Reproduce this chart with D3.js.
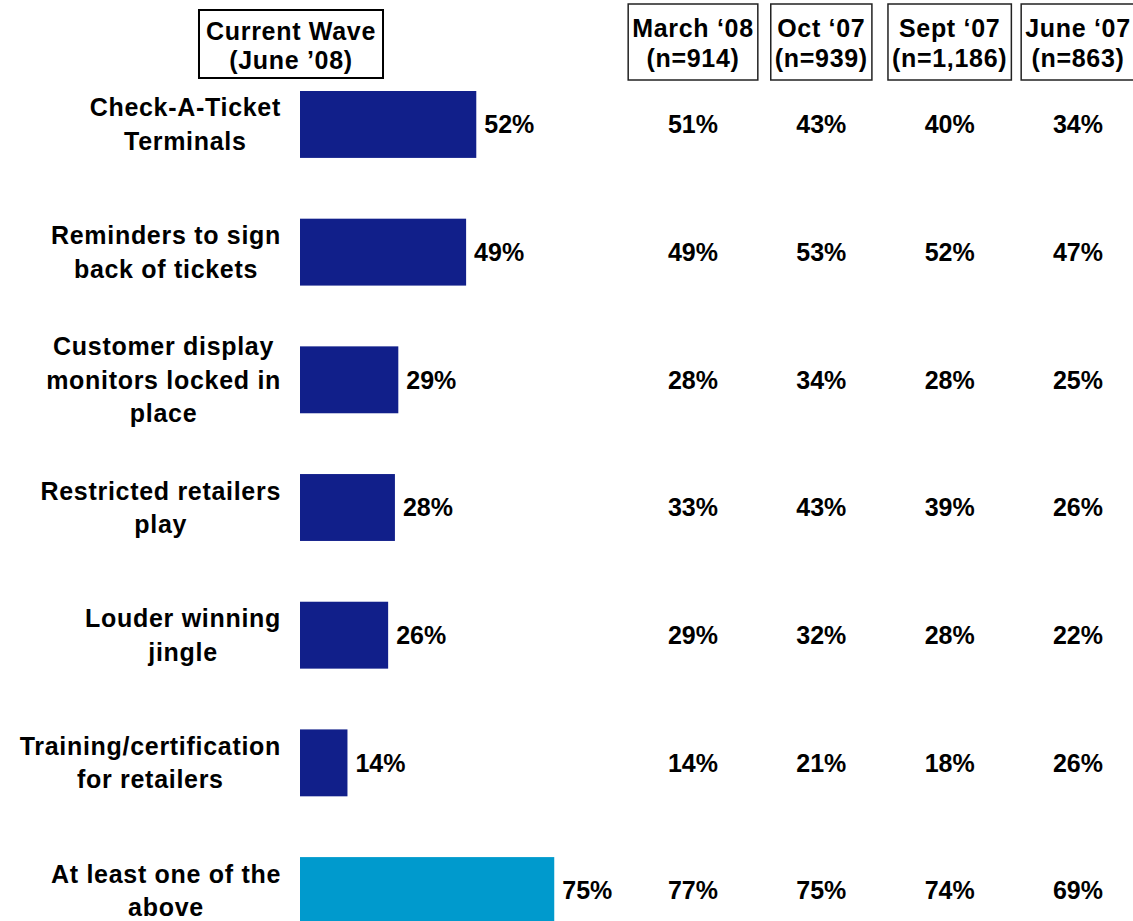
<!DOCTYPE html>
<html>
<head>
<meta charset="utf-8">
<script src="https://cdn.jsdelivr.net/npm/d3@7"></script>
<style>
  html, body { margin: 0; padding: 0; background: #ffffff; }
  svg { display: block; }
  text { font-family: "Liberation Sans", Arial, sans-serif; font-weight: bold; fill: #000; }
  .wide { letter-spacing: 0.7px; }
</style>
</head>
<body>
<script>
// Security features awareness by survey wave
const categories = [
  "Check-A-Ticket\nTerminals",
  "Reminders to sign\nback of tickets",
  "Customer display\nmonitors locked in\nplace",
  "Restricted retailers\nplay",
  "Louder winning\njingle",
  "Training/certification\nfor retailers",
  "At least one of the\nabove"
];
const currentWave = [52, 49, 29, 28, 26, 14, 75];
const currentLabel = ["Current Wave", "(June \u201908)"];

const waveNames = ["March \u201808", "Oct \u201807", "Sept \u201807", "June \u201807"];
const waveSamples = ["(n=914)", "(n=939)", "(n=1,186)", "(n=863)"];
const march08 = [51, 49, 28, 33, 29, 14, 77];
const oct07 = [43, 53, 34, 43, 32, 21, 75];
const sept07 = [40, 52, 28, 39, 28, 18, 74];
const june07 = [34, 47, 25, 26, 22, 26, 69];
const waveValues = [march08, oct07, sept07, june07];

const W = 1133, H = 921;
const FONT = 25;
const LINE = 33.5;
const darkBlue = "#111f8a", lightBlue = "#009acd";

const svg = d3.select("body").append("svg").attr("width", W).attr("height", H);

const x = d3.scaleLinear().domain([0, 100]).range([300, 639]);
const y = d3.scaleBand().domain(d3.range(categories.length))
  .range([91, 924]).paddingInner(0.476).paddingOuter(0);
const col = d3.scalePoint().domain(d3.range(waveNames.length)).range([693, 1078]);

// Bars for the current wave
svg.append("g").selectAll("rect").data(currentWave).join("rect")
  .attr("x", x(0))
  .attr("y", (d, i) => y(i))
  .attr("width", d => x(d) - x(0))
  .attr("height", y.bandwidth())
  .attr("fill", (d, i) => i === currentWave.length - 1 ? lightBlue : darkBlue);

// Value labels next to bars
svg.append("g").selectAll("text").data(currentWave).join("text")
  .attr("x", d => x(d) + 8)
  .attr("y", (d, i) => y(i) + y.bandwidth() / 2)
  .attr("dy", "0.35em")
  .attr("font-size", FONT)
  .text(d => d + "%");

// Category labels: centred lines, block right-aligned against the bars
const labelRight = 281;
const catG = svg.append("g");
categories.forEach((c, i) => {
  const lines = c.split("\n");
  const t = catG.append("text").attr("class", "wide").attr("font-size", FONT).attr("text-anchor", "middle");
  const cy = y(i) + y.bandwidth() / 2;
  const y0 = cy - (lines.length - 1) * LINE / 2;
  const spans = lines.map((ln, k) => t.append("tspan").attr("y", y0 + k * LINE).attr("dy", "0.35em").text(ln));
  const maxW = d3.max(spans, s => s.node().getComputedTextLength());
  spans.forEach(s => s.attr("x", labelRight - maxW / 2));
});

// Earlier wave columns
waveValues.forEach((vals, j) => {
  svg.append("g").selectAll("text").data(vals).join("text")
    .attr("x", col(j))
    .attr("y", (d, i) => y(i) + y.bandwidth() / 2)
    .attr("dy", "0.35em")
    .attr("text-anchor", "middle")
    .attr("font-size", FONT)
    .text(d => d + "%");
});

// Boxed headers
function boxedHeader(cx, lines, cy1, lineGap, padX, top, bottom, stroke, sw) {
  const g = svg.append("g");
  const rect = g.append("rect");
  const t = g.append("text").attr("class", "wide").attr("font-size", FONT).attr("text-anchor", "middle");
  lines.forEach((ln, k) => t.append("tspan").attr("x", cx).attr("y", cy1 + k * lineGap).attr("dy", "0.35em").text(ln));
  const bb = t.node().getBBox();
  rect.attr("x", bb.x - padX).attr("y", top)
    .attr("width", bb.width + 2 * padX).attr("height", bottom - top)
    .attr("fill", "none").attr("stroke", stroke).attr("stroke-width", sw);
}

boxedHeader(291, currentLabel, 31, 29, 7, 10, 78, "#000", 2);
waveNames.forEach((n, j) => {
  boxedHeader(col(j), [n, waveSamples[j]], 28, 30, 4, 4, 80, "#222", 1.5);
});
</script>
</body>
</html>
